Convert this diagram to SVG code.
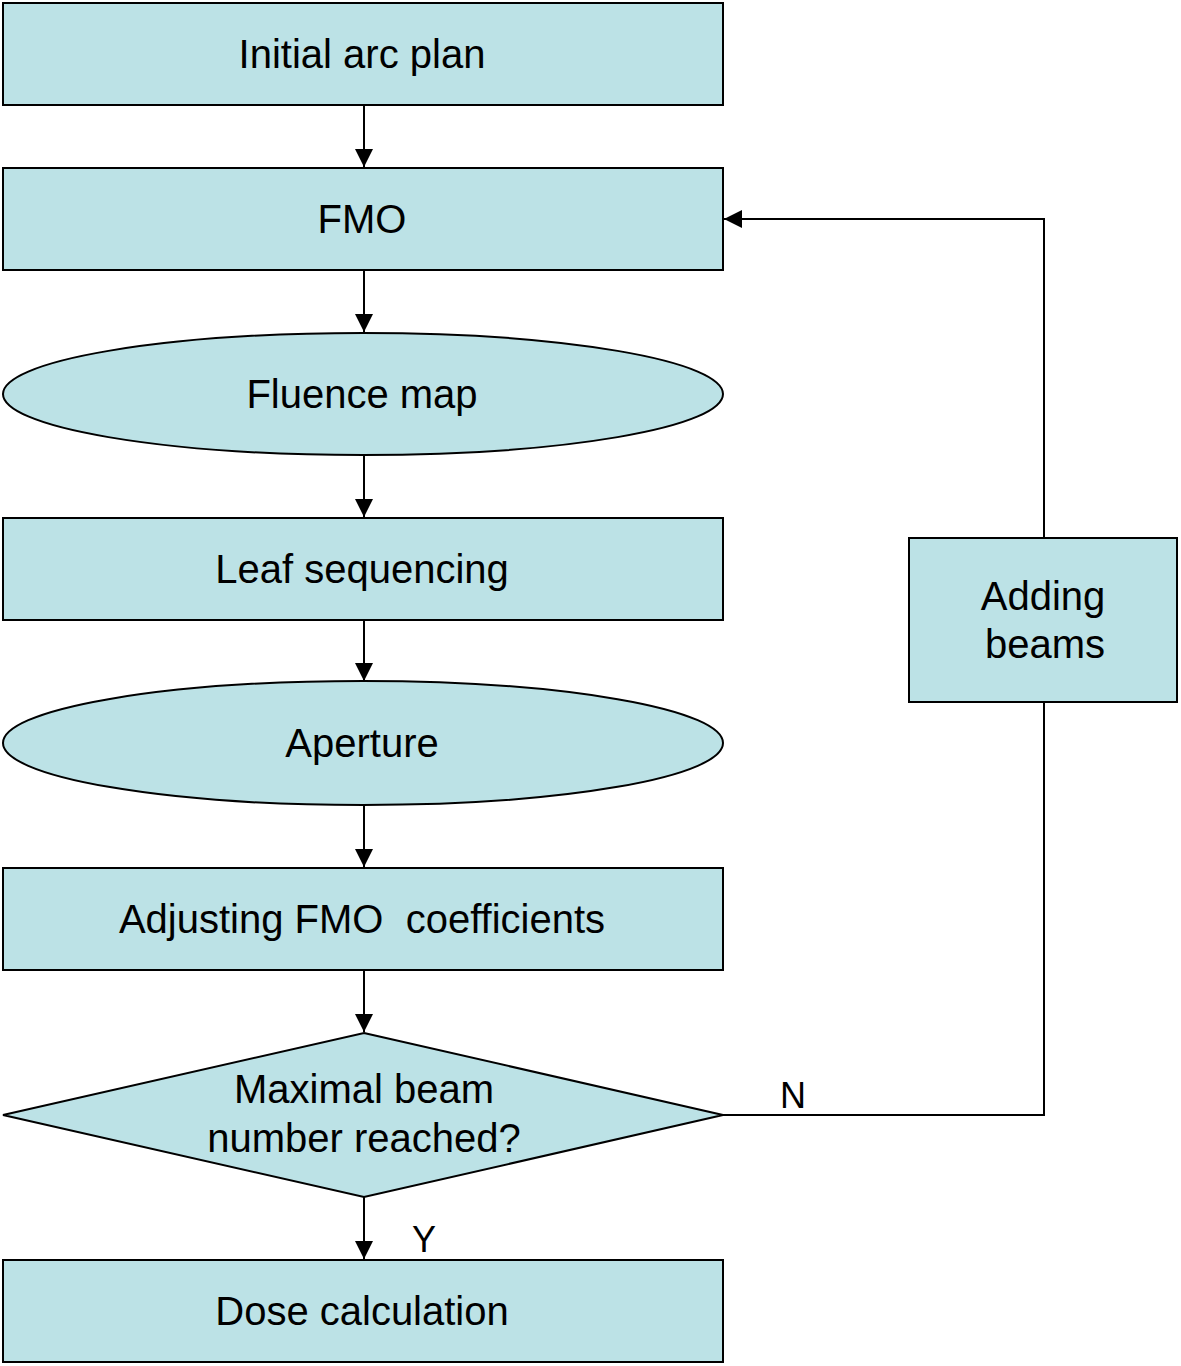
<svg xmlns="http://www.w3.org/2000/svg" width="1181" height="1366" viewBox="0 0 1181 1366">
<defs>
<style>
.n{fill:#bce2e6;stroke:#000;stroke-width:2}
.t{font-family:"Liberation Sans",Arial,sans-serif;font-size:40px;fill:#000;text-anchor:middle;white-space:pre}
.l{font-family:"Liberation Sans",Arial,sans-serif;font-size:36px;fill:#000;text-anchor:middle}
.c{fill:none;stroke:#000;stroke-width:2}
</style>
<marker id="a" markerWidth="18" markerHeight="18" refX="18" refY="9" orient="auto" markerUnits="userSpaceOnUse">
<path d="M0,0 L18,9 L0,18 Z" fill="#000"/>
</marker>
</defs>
<rect width="1181" height="1366" fill="#fff"/>
<g id="connectors">
<line class="c" x1="364" y1="105" x2="364" y2="167" marker-end="url(#a)"/>
<line class="c" x1="364" y1="270" x2="364" y2="332" marker-end="url(#a)"/>
<line class="c" x1="364" y1="455" x2="364" y2="517" marker-end="url(#a)"/>
<line class="c" x1="364" y1="620" x2="364" y2="681" marker-end="url(#a)"/>
<line class="c" x1="364" y1="805" x2="364" y2="867" marker-end="url(#a)"/>
<line class="c" x1="364" y1="970" x2="364" y2="1032" marker-end="url(#a)"/>
<line class="c" x1="364" y1="1197" x2="364" y2="1259" marker-end="url(#a)"/>
<polyline class="c" points="723,1115 1044,1115 1044,702"/>
<polyline class="c" points="1044,538 1044,219 724,219" marker-end="url(#a)"/>
<text class="l" x="793" y="1108">N</text>
<text class="l" x="424" y="1252">Y</text>
</g>
<g id="initial">
<rect class="n" x="3" y="3" width="720" height="102"/>
<text class="t" x="362" y="68">Initial arc plan</text>
</g>
<g id="fmo">
<rect class="n" x="3" y="168" width="720" height="102"/>
<text class="t" x="362" y="233">FMO</text>
</g>
<g id="fluence">
<ellipse class="n" cx="363" cy="394" rx="360" ry="61"/>
<text class="t" x="362" y="408">Fluence map</text>
</g>
<g id="leaf">
<rect class="n" x="3" y="518" width="720" height="102"/>
<text class="t" x="362" y="583">Leaf sequencing</text>
</g>
<g id="aperture">
<ellipse class="n" cx="363" cy="743" rx="360" ry="62"/>
<text class="t" x="362" y="757">Aperture</text>
</g>
<g id="adjusting">
<rect class="n" x="3" y="868" width="720" height="102"/>
<text class="t" x="362" y="933">Adjusting FMO  coefficients</text>
</g>
<g id="decision">
<polygon class="n" points="364,1033 723,1115 364,1197 3,1115"/>
<text class="t" x="364" y="1103">Maximal beam</text>
<text class="t" x="364" y="1152">number reached?</text>
</g>
<g id="dose">
<rect class="n" x="3" y="1260" width="720" height="102"/>
<text class="t" x="362" y="1325">Dose calculation</text>
</g>
<g id="adding">
<rect class="n" x="909" y="538" width="268" height="164"/>
<text class="t" x="1043" y="610">Adding</text>
<text class="t" x="1045" y="658">beams</text>
</g>
</svg>
